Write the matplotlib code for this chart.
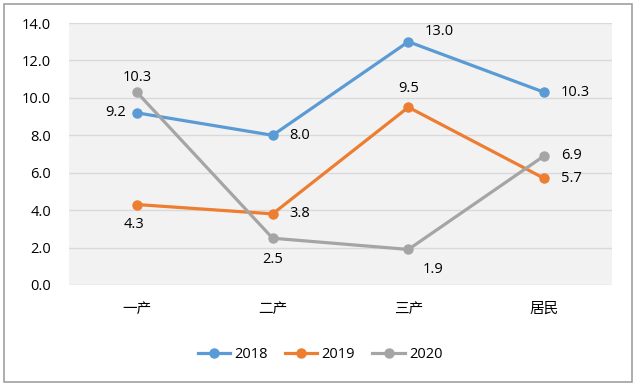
import matplotlib
matplotlib.use("Agg")
import matplotlib.pyplot as plt
from matplotlib.patches import Rectangle

plt.rcParams['font.family'] = ['Open Sans', 'Noto Sans CJK SC', 'DejaVu Sans']

categories = ["一产", "二产", "三产", "居民"]
series_names = ["2018", "2019", "2020"]
v2018 = [9.2, 8.0, 13.0, 10.3]
v2019 = [4.3, 3.8, 9.5, 5.7]
v2020 = [10.3, 2.5, 1.9, 6.9]
yticks = [0, 2, 4, 6, 8, 10, 12, 14]

colors = ["#5B9BD5", "#ED7D31", "#A5A5A5"]
# label offsets (points) per series/point
offsets = [
    [(-8, 0, 'right', 'center'), (12, 0, 'left', 'center'), (12, 2, 'left', 'bottom'), (12, 0, 'left', 'center')],
    [(-2, -9, 'center', 'top'), (12, 0, 'left', 'center'), (0, 8, 'center', 'bottom'), (12, 0, 'left', 'center')],
    [(0, 5, 'center', 'bottom'), (0, -10, 'center', 'top'), (18, -9, 'center', 'top'), (12, 0, 'left', 'center')],
]

fig = plt.figure(figsize=(6.4, 3.88), dpi=100)
ax = fig.add_axes([69/640, 1-285/388, (612-69)/640, (285-23)/388])
ax.set_facecolor("#F2F2F2")

x = list(range(len(categories)))
data = [v2018, v2019, v2020]
for name, vals, c, offs in zip(series_names, data, colors, offsets):
    ax.plot(x, vals, color=c, lw=2.3, marker='o', ms=6.5, label=name, zorder=3)
    for xi, v, (dx, dy, ha, va) in zip(x, vals, offs):
        ax.annotate(f"{v:.1f}", (xi, v), xytext=(dx, dy), textcoords='offset points',
                    ha=ha, va=va, fontsize=10.5, color='#000000')

ax.set_xlim(-0.5, len(categories) - 0.5)
ax.set_ylim(0, 14)
ax.set_yticks(yticks)
ax.set_yticklabels([f"{t:.1f}" for t in yticks], fontsize=10.5)
ax.set_xticks(x)
ax.set_xticklabels(categories, fontsize=10.5)
ax.tick_params(axis='both', length=0)
ax.tick_params(axis='y', pad=13)
ax.tick_params(axis='x', pad=12)
ax.grid(axis='y', color='#D9D9D9', lw=1)
ax.set_axisbelow(True)
for s in ax.spines.values():
    s.set_visible(False)

leg = fig.legend(loc='center', bbox_to_anchor=(320/640, 1-355/388), ncol=3, frameon=False,
                 fontsize=10.5, handlelength=2.2, columnspacing=1.2, handletextpad=0.3)

fig.patches.append(Rectangle((4/640, 1-382/388), 628/640, 378/388, transform=fig.transFigure,
                             fill=False, edgecolor='#A0A0A0', lw=1.2))

fig.savefig("out.png", dpi=100)
